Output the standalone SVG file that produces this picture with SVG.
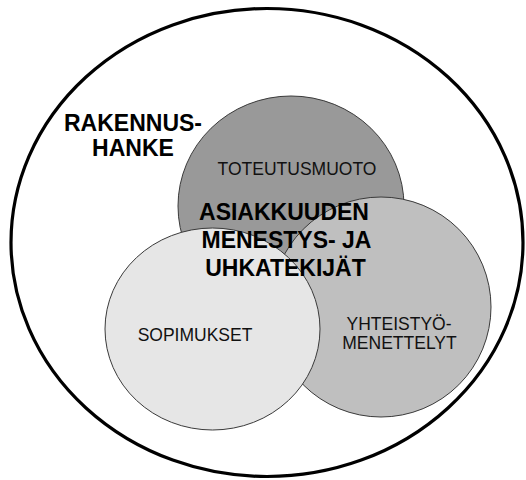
<svg xmlns="http://www.w3.org/2000/svg" width="526" height="480" viewBox="0 0 526 480">
  <style>
    .set { stroke: #3a3a3a; stroke-width: 1; }
    .lbl { font-family: "Liberation Sans", Arial, sans-serif; font-size: 17.5px; fill: #111; text-anchor: middle; }
    .big { font-family: "Liberation Sans", Arial, sans-serif; font-size: 23px; font-weight: bold; fill: #000; text-anchor: middle; }
  </style>
  <rect width="526" height="480" fill="#ffffff"/>

  <!-- outer boundary: the construction project -->
  <g id="rakennushanke">
    <ellipse cx="267" cy="242.5" rx="256" ry="234" fill="none" stroke="#000" stroke-width="3.2"/>
    <text class="big" x="133" y="131" font-size="22">RAKENNUS-</text>
    <text class="big" x="133" y="156" font-size="22">HANKE</text>
  </g>

  <!-- overlapping factor sets -->
  <g id="toteutusmuoto">
    <ellipse class="set" cx="291" cy="206" rx="113" ry="110" fill="#999999"/>
    <text class="lbl" x="297" y="174.5">TOTEUTUSMUOTO</text>
  </g>

  <g id="yhteistyomenettelyt">
    <ellipse class="set" cx="381" cy="307" rx="110" ry="110" fill="#bfbfbf"/>
    <text class="lbl" x="399" y="330">YHTEISTYÖ-</text>
    <text class="lbl" x="399.5" y="349">MENETTELYT</text>
  </g>

  <g id="sopimukset">
    <ellipse class="set" cx="212.5" cy="329" rx="107.5" ry="101" fill="#e6e6e6"/>
    <text class="lbl" x="195" y="340.5">SOPIMUKSET</text>
  </g>

  <!-- central theme across the intersection -->
  <g id="asiakkuus">
    <text class="big" x="284" y="220">ASIAKKUUDEN</text>
    <text class="big" x="286.5" y="248">MENESTYS- JA</text>
    <text class="big" x="285.5" y="276">UHKATEKIJÄT</text>
  </g>

  <g id="connectors"/>
</svg>
